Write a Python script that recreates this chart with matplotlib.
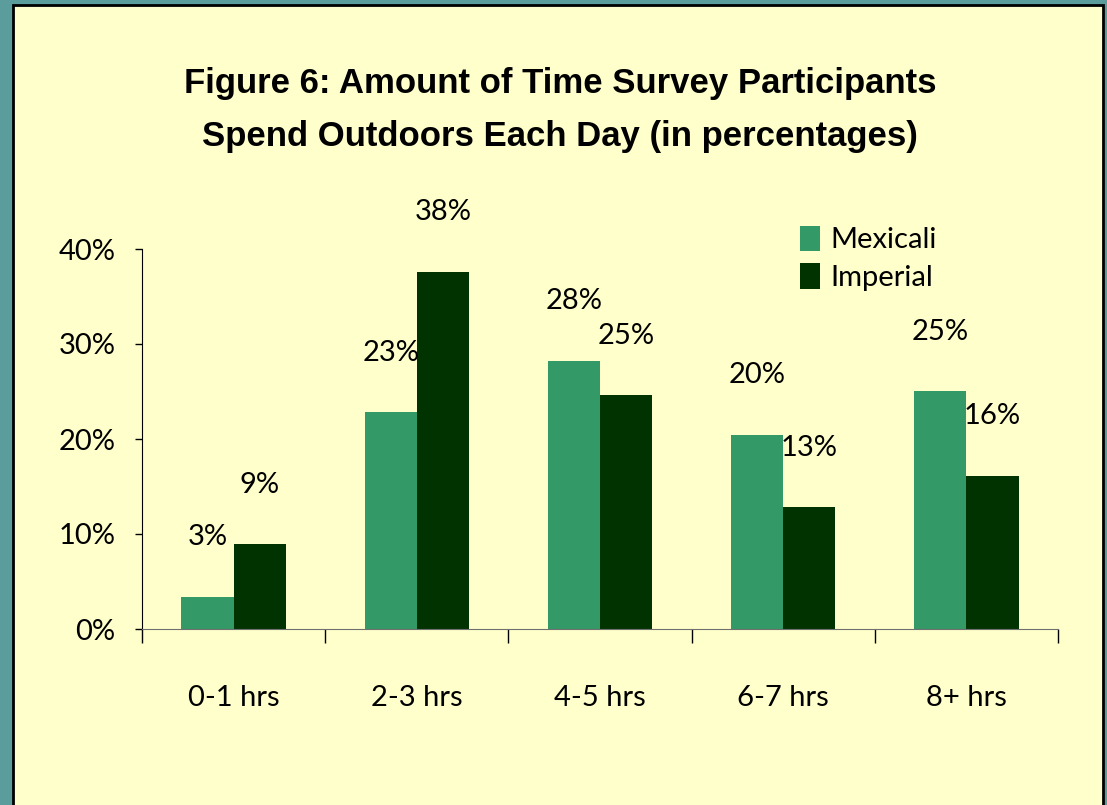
import matplotlib
matplotlib.use("Agg")
import matplotlib.pyplot as plt
from matplotlib.patches import Rectangle
import numpy as np

categories = ["0-1 hrs", "2-3 hrs", "4-5 hrs", "6-7 hrs", "8+ hrs"]
mexicali = [3.4, 22.8, 28.2, 20.4, 25.0]
imperial = [8.9, 37.6, 24.6, 12.8, 16.1]
series_names = ["Mexicali", "Imperial"]
yticks = [0, 10, 20, 30, 40]

plt.rcParams['font.family'] = ['Lato', 'DejaVu Sans']

fig = plt.figure(figsize=(11.07, 8.05), dpi=100)
fig.patch.set_facecolor('#5b9c9c')

# yellow panel with black border
panel = Rectangle((13 / 1107, -0.05), (1103 - 13) / 1107, 1.05 - 5 / 805,
                  transform=fig.transFigure, facecolor='#FFFFCC',
                  edgecolor='black', linewidth=2, zorder=-1)
fig.patches.append(panel)

ax = fig.add_axes([142 / 1107, 1 - 629 / 805, (1058 - 142) / 1107, (629 - 249) / 805])
ax.set_facecolor('none')
ax.set_zorder(2)

x = np.arange(len(categories))
w = 0.285
b1 = ax.bar(x - w / 2, mexicali, width=w, color='#339966', label=series_names[0], zorder=2)
b2 = ax.bar(x + w / 2, imperial, width=w, color='#003300', label=series_names[1], zorder=2)

for bars, vals in [(b1, mexicali), (b2, imperial)]:
    for rect, v in zip(bars, vals):
        ax.annotate(f"{v:.0f}%", (rect.get_x() + rect.get_width() / 2, v),
                    xytext=(0, 43), textcoords='offset points',
                    ha='center', va='center', fontsize=21, color='black', clip_on=False)

ax.set_xlim(-0.5, len(categories) - 0.5)
ax.set_ylim(0, 40)
ax.set_yticks(yticks)
ax.set_yticklabels([f"{t}%" for t in yticks], fontsize=21)
ax.tick_params(axis='y', direction='out', length=5, width=1, pad=14, labelcolor='black')

ax.set_xticks(x)
ax.set_xticklabels(categories, fontsize=21)
ax.set_xticks(np.arange(len(categories) + 1) - 0.5, minor=True)
ax.tick_params(axis='x', which='major', length=0, pad=40, labelcolor='black')
ax.tick_params(axis='x', which='minor', direction='out', length=10, width=1)

ax.spines['top'].set_visible(False)
ax.spines['right'].set_visible(False)
ax.spines['bottom'].set_color('#707070')
ax.spines['left'].set_color('black')

fig.text(0.506, 1 - 110 / 805, "Figure 6: Amount of Time Survey Participants\nSpend Outdoors Each Day (in percentages)",
         ha='center', va='center', fontsize=25, fontweight='bold', linespacing=1.75,
         family=['Liberation Sans', 'DejaVu Sans'])

fig.legend(loc='upper left', bbox_to_anchor=(788 / 1107, 1 - 214 / 805), frameon=False,
           fontsize=21, handlelength=0.7, handleheight=0.95, handletextpad=0.35,
           labelspacing=0.35, borderaxespad=0)

fig.savefig("out.png", dpi=100, facecolor=fig.get_facecolor())
